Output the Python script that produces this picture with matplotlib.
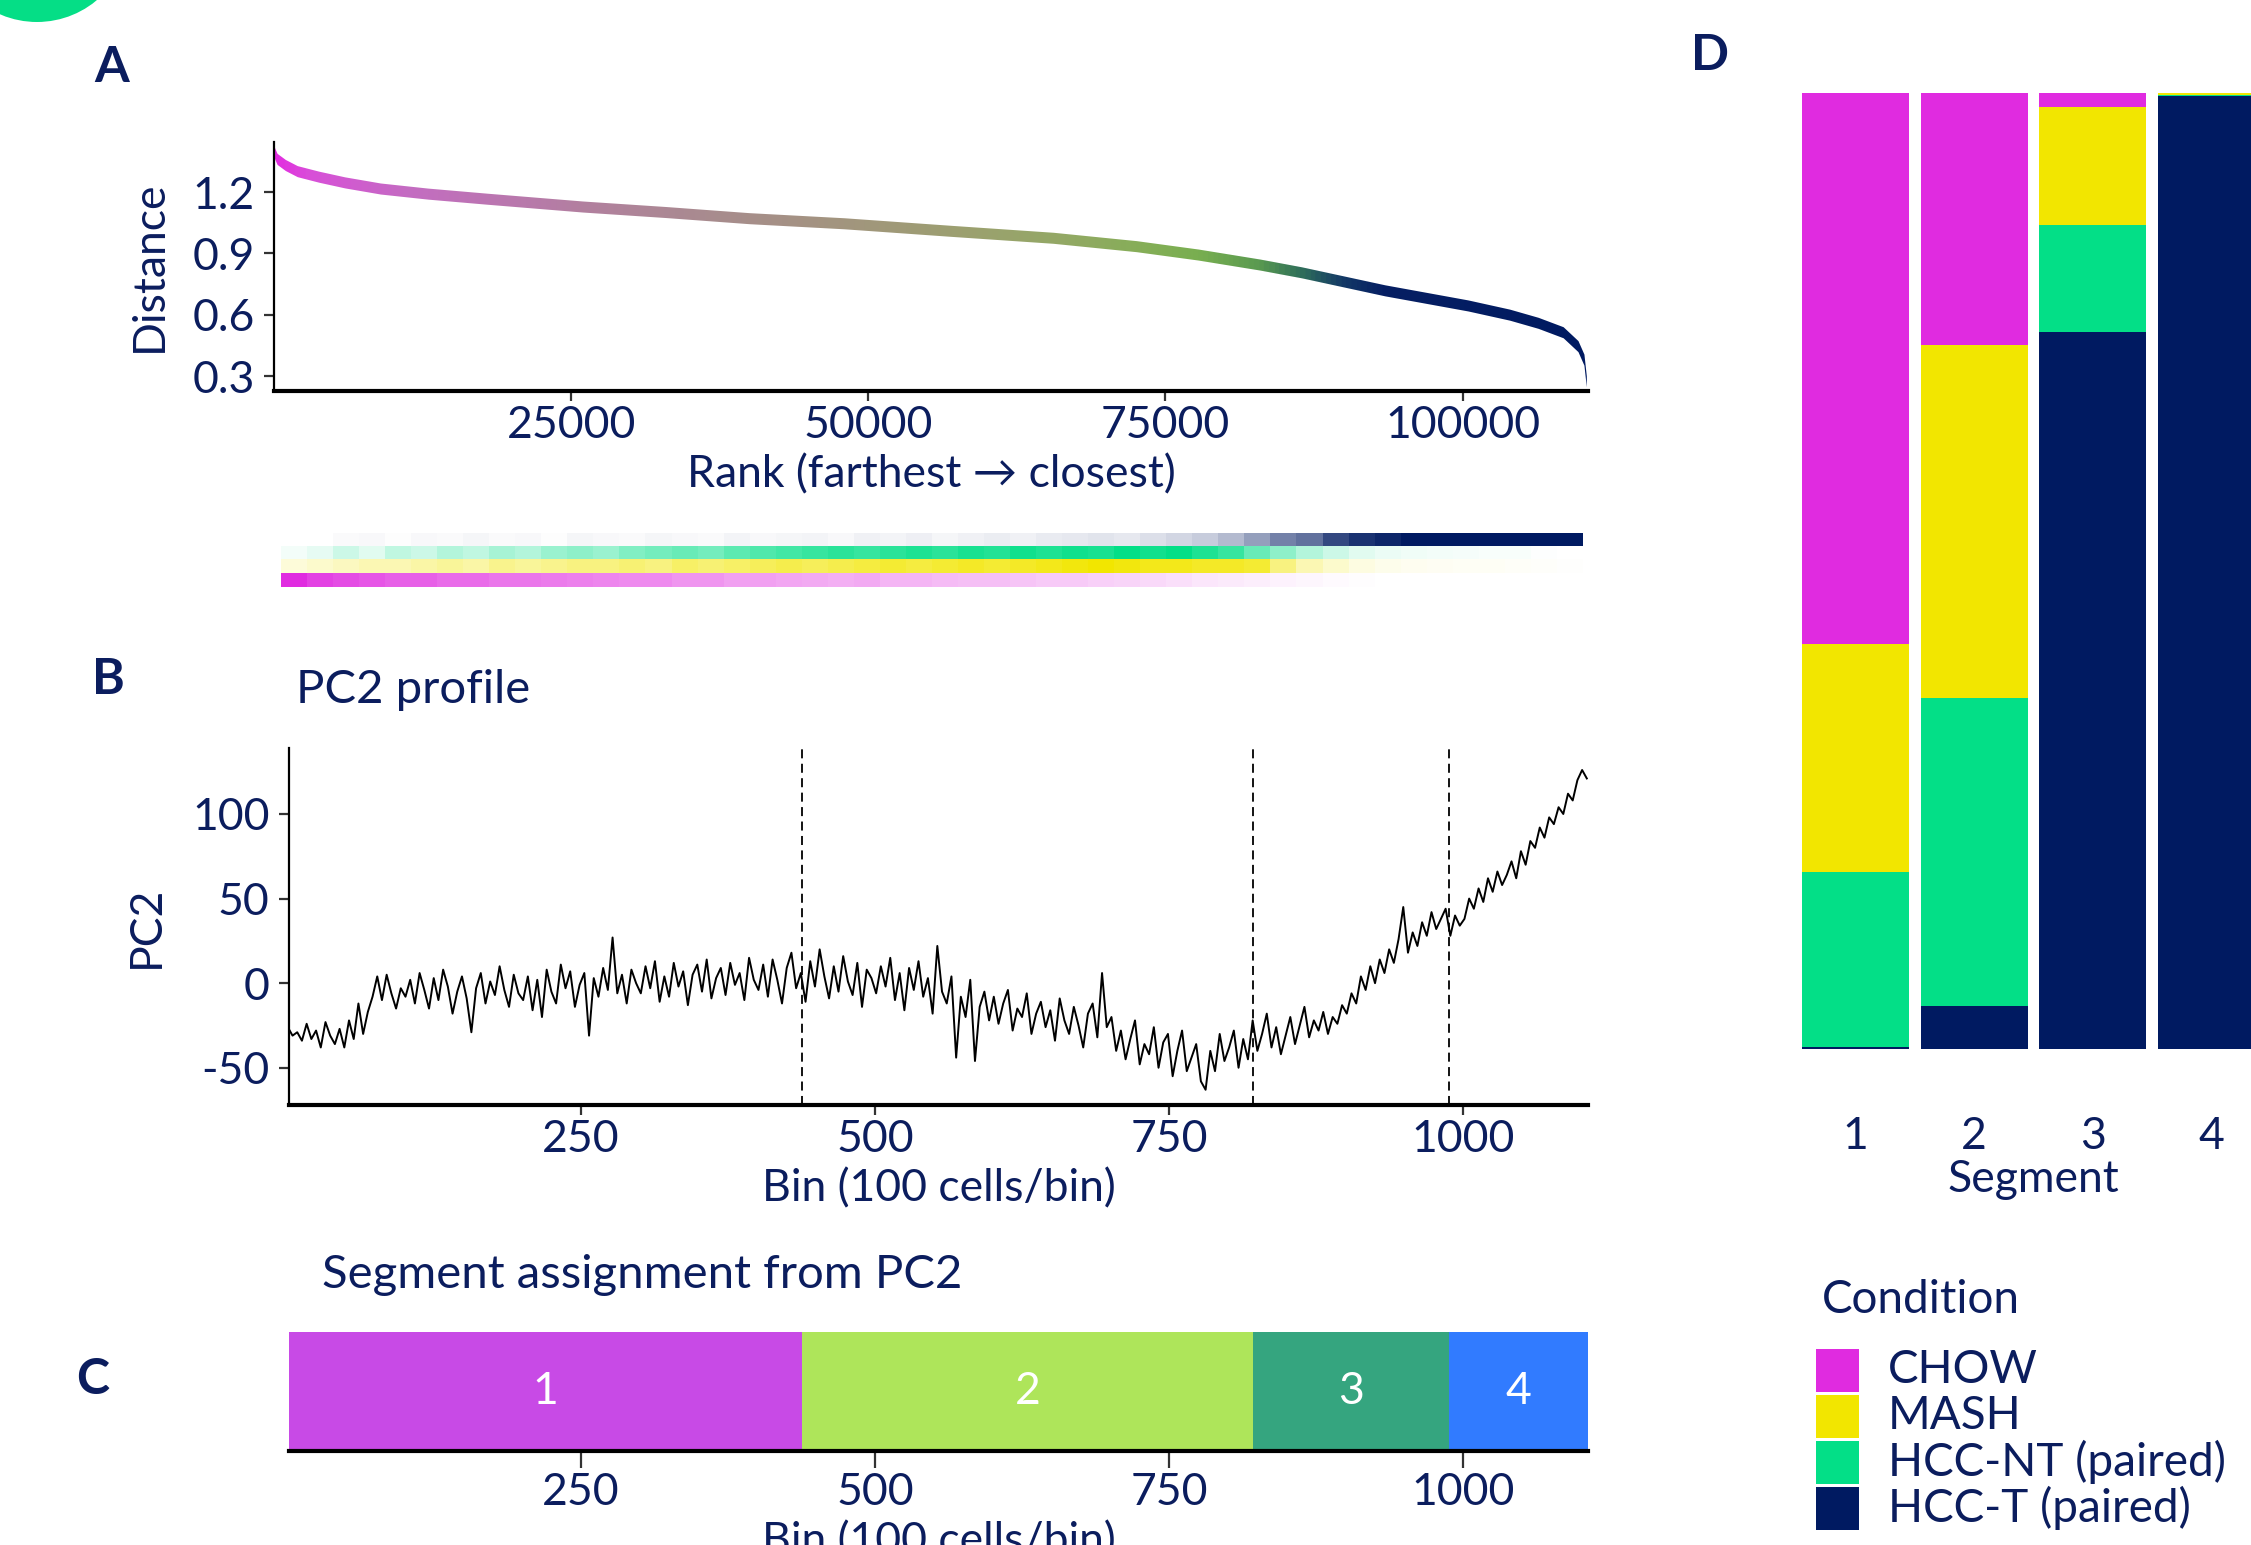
import numpy as np
import matplotlib.pyplot as plt
from matplotlib.colors import LinearSegmentedColormap, to_rgb
from matplotlib.patches import Ellipse, Rectangle

plt.rcParams['font.family'] = ['Lato', 'DejaVu Sans']
plt.rcParams['axes.unicode_minus'] = False

NAVY = '#0B1D5E'
W, H = 2251, 1545

conditions = ['CHOW', 'MASH', 'HCC-NT (paired)', 'HCC-T (paired)']
cond_colors = ['#E02BE0', '#F2E600', '#03DF87', '#001A61']

# A: distance to reference, ranked
rank = [0, 300, 1000, 2000, 3800, 6000, 9000, 13000, 18000, 26000, 33000, 40000,
        48000, 57000, 65600, 72600, 77800, 83000, 86500, 90000, 93500, 97000,
        100500, 104000, 106400, 108500, 109750, 110250, 110450]
distance = [1.40, 1.36, 1.33, 1.30, 1.273, 1.245, 1.215, 1.19, 1.165, 1.127, 1.10, 1.07,
            1.045, 1.008, 0.974, 0.933, 0.892, 0.843, 0.805, 0.761, 0.717, 0.680,
            0.643, 0.598, 0.558, 0.512, 0.444, 0.378, 0.272]
grad_rank = [0, 3000, 11000, 26000, 37000, 48000, 58000, 66000, 73000, 78000,
             83000, 86500, 90000, 93500, 110550]
grad_cols = ['#E22EE0', '#D850D8', '#C46CC2', '#B2809F', '#A88C8E', '#A2957E', '#9CA070',
             '#94A866', '#86AE58', '#78AE50', '#5A9A50', '#30705A', '#143A66', '#061F63', '#001A61']

# condition strip under A (top row to bottom row)
hcct_strip = [0, 0, 0.02, 0.03, 0.01, 0.03, 0.02, 0.04, 0.02, 0.03,
              0.01, 0.04, 0.03, 0.02, 0.04, 0.03, 0.02, 0.05, 0.03, 0.04,
              0.05, 0.03, 0.06, 0.05, 0.07, 0.04, 0.06, 0.08, 0.06, 0.09,
              0.1, 0.12, 0.1, 0.14, 0.18, 0.22, 0.3, 0.42, 0.55, 0.62,
              0.8, 0.9, 0.95, 1, 1, 1, 1, 1, 1, 1]
hccnt_strip = [0.05, 0.1, 0.2, 0.12, 0.25, 0.2, 0.3, 0.25, 0.35, 0.3,
               0.4, 0.45, 0.4, 0.5, 0.55, 0.6, 0.55, 0.65, 0.7, 0.75,
               0.8, 0.85, 0.8, 0.85, 0.9, 0.85, 0.92, 0.88, 0.95, 0.9,
               0.95, 0.92, 1.0, 0.95, 1.0, 0.9, 0.8, 0.6, 0.45, 0.3,
               0.2, 0.12, 0.08, 0.06, 0.05, 0.04, 0.03, 0.03, 0.01, 0]
mash_strip = [0.15, 0.2, 0.25, 0.3, 0.3, 0.35, 0.4, 0.35, 0.45, 0.4,
              0.45, 0.5, 0.5, 0.55, 0.5, 0.6, 0.55, 0.6, 0.65, 0.7,
              0.65, 0.7, 0.75, 0.8, 0.75, 0.8, 0.85, 0.8, 0.85, 0.9,
              0.95, 1.0, 0.95, 0.9, 0.9, 0.85, 0.85, 0.8, 0.5, 0.3,
              0.2, 0.12, 0.08, 0.06, 0.05, 0.04, 0.04, 0.03, 0.02, 0.01]
chow_strip = [1.0, 0.9, 0.85, 0.8, 0.75, 0.75, 0.7, 0.7, 0.65, 0.65,
              0.62, 0.6, 0.58, 0.55, 0.55, 0.5, 0.5, 0.45, 0.45, 0.42,
              0.4, 0.38, 0.4, 0.35, 0.35, 0.32, 0.3, 0.3, 0.28, 0.25,
              0.25, 0.22, 0.2, 0.18, 0.15, 0.12, 0.1, 0.08, 0.06, 0.04,
              0.02, 0.01, 0, 0, 0, 0, 0, 0, 0, 0]

# B: PC2 profile, every 4th bin
pc2 = [-26, -31, -29, -34, -24, -33, -28, -38, -23, -31, -36, -27, -38, -22, -33, -12, -30, -17, -8, 4, -10, 5, -6, -15, -3,
       -8, 2, -12, 6, -4, -15, 3, -10, 8, -2, -18, -5, 4, -9, -29, -3, 6, -12, 1, -7, 10, -4, -14, 5, -6,
       -10, 4, -16, 2, -20, 8, -5, -12, 11, -3, 7, -14, -1, 6, -31, 3, -8, 9, -4, 27, -6, 5, -12, 8, 0,
       -6, 10, -3, 13, -11, 4, -8, 12, -2, 7, -13, 5, 11, -5, 14, -9, 3, 9, -7, 12, -1, 6, -10, 15, 2,
       -4, 11, -8, 14, 2, -12, 9, 18, -3, 6, -11, 13, -2, 20, 4, -9, 10, -5, 16, 1, -7, 12, -14, 8, 3,
       -6, 10, -2, 15, -10, 6, -16, 9, -4, 13, -8, 3, -18, 22, -5, -12, 4, -44, -8, -20, 2, -46, -14, -5, -22,
       -8, -24, -12, -4, -28, -15, -20, -6, -30, -18, -11, -26, -16, -34, -9, -22, -30, -14, -25, -38, -18, -12, -32, 6, -26,
       -20, -40, -28, -45, -33, -22, -48, -36, -42, -26, -50, -35, -30, -55, -40, -28, -52, -44, -36, -58, -63, -40, -52, -30, -46,
       -38, -28, -50, -33, -45, -22, -40, -30, -18, -38, -26, -42, -31, -20, -36, -25, -14, -32, -22, -28, -17, -30, -20, -24, -13,
       -18, -6, -12, 4, -4, 10, 0, 14, 6, 20, 12, 26, 45, 18, 30, 22, 36, 28, 42, 32, 38, 44, 28, 40, 34,
       38, 50, 44, 56, 48, 62, 54, 66, 58, 64, 72, 62, 78, 70, 84, 80, 92, 86, 98, 94, 104, 100, 112, 108, 120,
       126, 121]
pc2_bins = np.arange(1, 4 * len(pc2), 4)
seg_bounds = [438, 821, 988]

# C: segments
seg_labels = ['1', '2', '3', '4']
seg_start = [2, 438, 821, 988]
seg_end = [438, 821, 988, 1106]
seg_colors = ['#C84AE6', '#AEE55A', '#35A57F', '#317BFF']

# D: condition fractions per segment
frac_chow = [0.576, 0.264, 0.015, 0.0]
frac_mash = [0.239, 0.369, 0.123, 0.002]
frac_nt = [0.183, 0.322, 0.112, 0.001]
frac_t = [0.002, 0.045, 0.750, 0.997]

TICK = 32
LAB = 32

fig = plt.figure(figsize=(W / 100, H / 100), dpi=100)


def px_axes(l, t, r, b):
    return fig.add_axes([l / W, 1 - b / H, (r - l) / W, (b - t) / H])


def style(ax, ypad=9):
    for s in ['top', 'right']:
        ax.spines[s].set_visible(False)
    ax.spines['bottom'].set_linewidth(3)
    ax.spines['left'].set_linewidth(1.6)
    ax.tick_params(axis='x', length=7, width=1.6, color='#333333', labelcolor=NAVY, labelsize=TICK, pad=3)
    ax.tick_params(axis='y', length=7, width=1.6, color='#333333', labelcolor=NAVY, labelsize=TICK, pad=ypad)


# ---- A
axA = px_axes(274, 142, 1588, 391)
rk = np.array(rank)
ds = np.array(distance)
band = axA.fill_between(rk, ds - 0.027, ds + 0.027, color='none', lw=0)
cmap = LinearSegmentedColormap.from_list('rk', list(zip(np.array(grad_rank) / grad_rank[-1], grad_cols)))
im = axA.imshow(np.linspace(0, 1, 1200).reshape(1, -1), cmap=cmap, aspect='auto',
                extent=(0, grad_rank[-1], 0.2, 1.5), origin='lower')
im.set_clip_path(band.get_paths()[0], axA.transData)
axA.set_xlim(0, 110550)
axA.set_ylim(0.227, 1.445)
axA.set_xticks([25000, 50000, 75000, 100000])
axA.set_yticks([0.3, 0.6, 0.9, 1.2])
style(axA, ypad=7)
axA.set_xlabel('Rank (farthest \u2192 closest)', fontsize=LAB, color=NAVY, labelpad=6)
axA.set_ylabel('Distance', fontsize=LAB, color=NAVY, labelpad=16)

# strip
axS = px_axes(281, 533, 1583, 587)
rows = [hcct_strip, hccnt_strip, mash_strip, chow_strip]
row_cols = [cond_colors[3], cond_colors[2], cond_colors[1], cond_colors[0]]
img = np.ones((4, len(chow_strip), 4))
for i, (vals, c) in enumerate(zip(rows, row_cols)):
    img[i, :, :3] = to_rgb(c)
    img[i, :, 3] = vals
axS.imshow(img, aspect='auto', interpolation='nearest')
axS.axis('off')

# ---- B
axB = px_axes(289, 748, 1588, 1105)
axB.plot(pc2_bins, pc2, color='black', lw=1.4)
for b in seg_bounds:
    axB.axvline(b, color='black', lw=1.3, dashes=(5, 3))
axB.set_xlim(2, 1106)
axB.set_ylim(-72, 139)
axB.set_xticks([250, 500, 750, 1000])
axB.set_yticks([-50, 0, 50, 100])
style(axB, ypad=7)
axB.set_xlabel('Bin (100 cells/bin)', fontsize=LAB, color=NAVY, labelpad=6)
axB.set_ylabel('PC2', fontsize=LAB, color=NAVY, labelpad=18)

# ---- C
axC = px_axes(289, 1332, 1588, 1451)
for s, e, lab, c in zip(seg_start, seg_end, seg_labels, seg_colors):
    axC.barh(0.5, e - s, left=s, height=1, color=c)
    axC.text((s + e) / 2, 0.5, lab, color='white', fontsize=TICK, ha='center', va='center')
axC.set_xlim(2, 1106)
axC.set_ylim(0, 1)
axC.set_xticks([250, 500, 750, 1000])
axC.set_yticks([])
style(axC)
axC.spines['left'].set_visible(False)
axC.tick_params(axis='x', length=12)
axC.set_xlabel('Bin (100 cells/bin)', fontsize=LAB, color=NAVY, labelpad=6)

# ---- D
axD = px_axes(1796, 93, 2271, 1049)
xs = np.arange(1, len(frac_t) + 1)
bottom = np.zeros(len(xs))
for vals, c in zip([frac_t, frac_nt, frac_mash, frac_chow], cond_colors[::-1]):
    axD.bar(xs, vals, bottom=bottom, width=0.9, color=c)
    bottom += np.array(vals)
axD.set_xlim(0.5, 4.5)
axD.set_ylim(0, 1)
axD.set_yticks([])
axD.set_xticks(xs)
axD.set_xticklabels(seg_labels)
for s in axD.spines.values():
    s.set_visible(False)
axD.tick_params(axis='x', length=0, labelcolor=NAVY, labelsize=TICK, pad=48)
axD.set_xlabel('Segment', fontsize=LAB, color=NAVY, labelpad=2)

# legend
fig.text(1822 / W, 1 - 1300 / H, 'Condition', fontsize=33, color=NAVY, ha='left', va='center')
for i, (lab, c) in enumerate(zip(conditions, cond_colors)):
    top = 1349 + 46 * i
    fig.add_artist(Rectangle((1816 / W, 1 - (top + 43) / H), 43 / W, 43 / H,
                             transform=fig.transFigure, facecolor=c, edgecolor='none'))
    fig.text(1888 / W, 1 - (top + 21) / H, lab, fontsize=33, color=NAVY, ha='left', va='center')

# panel letters and titles
for lab, x, y in [('A', 112, 68), ('B', 108, 680), ('C', 93, 1380), ('D', 1710, 55)]:
    fig.text(x / W, 1 - y / H, lab, fontsize=36, fontweight='bold', color=NAVY, ha='center', va='center')
fig.text(296 / W, 1 - 690 / H, 'PC2 profile', fontsize=34, color=NAVY, ha='left', va='center')
fig.text(322 / W, 1 - 1275 / H, 'Segment assignment from PC2', fontsize=34, color=NAVY, ha='left', va='center')

# green corner blob
fig.add_artist(Ellipse((37 / W, 1 + 71 / H), 186 / W, 186 / H, transform=fig.transFigure,
                       facecolor='#05DE86', edgecolor='none'))

fig.savefig('out.png', dpi=100)
